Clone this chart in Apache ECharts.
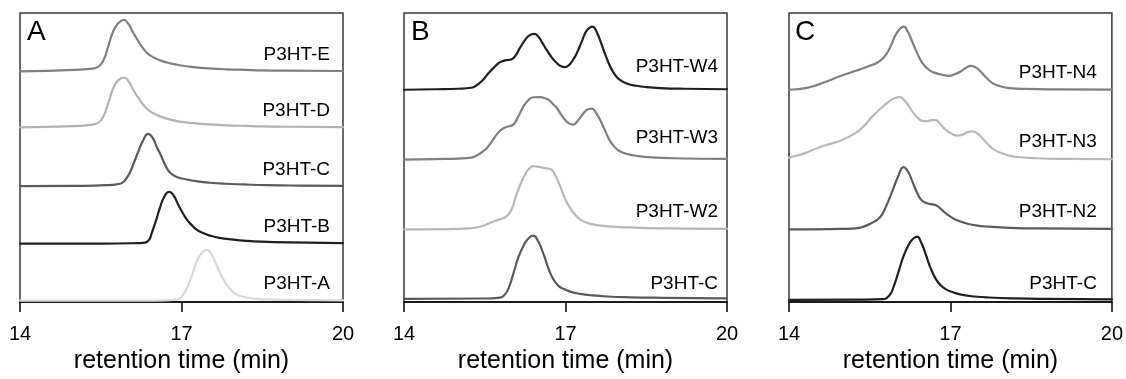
<!DOCTYPE html>
<html>
<head>
<meta charset="utf-8">
<script src="https://cdn.jsdelivr.net/npm/echarts@6/dist/echarts.min.js"></script>
<style>
html,body{margin:0;padding:0;background:#fff;}
#chart{width:1126px;height:379px;}
</style>
</head>
<body>
<div id="chart"></div>
<script>
// ---------- DATA ----------
const panelLetters = ['A', 'B', 'C'];
const xTicks = [14, 17, 20];
const xTitle = 'retention time (min)';

// Panel A
const namesA = ['P3HT-E', 'P3HT-D', 'P3HT-C', 'P3HT-B', 'P3HT-A'];
const offsetsA = [231.5, 175.3, 116.3, 58.7, 1.5];
const tA_E = [14, 14.5, 15, 15.3, 15.45, 15.55, 15.65, 15.73, 15.82, 15.93, 16.02, 16.1, 16.2, 16.29, 16.38, 16.48, 16.6, 16.79, 17, 17.22, 17.5, 17.84, 18.2, 18.46, 19, 20];
const hA_E = [0, 0.5, 1.5, 2.5, 4.5, 11, 27, 40, 48, 51.7, 47, 39, 30, 22.7, 17.5, 14, 11, 8, 5.8, 4.3, 3, 2, 1.4, 1, 0.6, 0.3];
const tA_D = [14, 14.5, 15, 15.3, 15.45, 15.55, 15.65, 15.73, 15.82, 15.93, 16.02, 16.1, 16.2, 16.29, 16.38, 16.48, 16.6, 16.79, 17, 17.22, 17.5, 17.84, 18.2, 18.46, 19, 20];
const hA_D = [0, 0.5, 1.3, 2.5, 4.5, 11, 26, 39, 47, 50, 46, 38, 29.5, 22.7, 17.5, 14, 11, 7.7, 5.5, 4.2, 3, 2, 1.4, 1, 0.6, 0.3];
const tA_C = [14, 15, 15.6, 15.86, 15.95, 16.04, 16.12, 16.2, 16.28, 16.38, 16.47, 16.55, 16.6, 16.7, 16.79, 16.9, 17.1, 17.3, 17.53, 17.8, 18.15, 18.6, 19.2, 20];
const hA_C = [0, 0.3, 1, 2.4, 6, 13.4, 24, 35, 45, 52.5, 48, 38, 33, 21, 13.4, 9.5, 6.7, 4.8, 3.4, 2.4, 1.7, 1, 0.6, 0.3];
const tA_B = [14, 15.5, 16.2, 16.32, 16.4, 16.45, 16.52, 16.6, 16.68, 16.77, 16.85, 16.94, 17.02, 17.1, 17.2, 17.28, 17.4, 17.53, 17.7, 17.96, 18.2, 18.46, 19, 20];
const hA_B = [0, 0, 0.5, 1, 4, 11, 22, 36, 47, 52, 48.5, 39, 31, 24, 18, 14, 10.5, 8, 5.8, 4, 2.8, 2, 1.2, 0.5];
const tA_A = [14, 16.5, 16.91, 17, 17.1, 17.2, 17.28, 17.38, 17.47, 17.56, 17.65, 17.74, 17.84, 17.94, 18.03, 18.15, 18.34, 18.6, 19, 20];
const hA_A = [0, 0, 1, 4, 12.7, 26, 39, 48, 51, 46, 36, 25, 16, 9.5, 6, 3.8, 2, 1.2, 0.7, 0.3];

// Panel B
const namesB = ['P3HT-W4', 'P3HT-W3', 'P3HT-W2', 'P3HT-C'];
const offsetsB = [213, 143, 73, 3.3];
const tB_W4 = [14, 14.6, 15, 15.25, 15.35, 15.47, 15.56, 15.66, 15.75, 15.81, 15.9, 16, 16.08, 16.15, 16.25, 16.33, 16.42, 16.5, 16.57, 16.65, 16.75, 16.84, 16.92, 16.99, 17.07, 17.14, 17.21, 17.3, 17.39, 17.5, 17.57, 17.64, 17.72, 17.83, 17.92, 18.01, 18.15, 18.32, 18.5, 18.76, 19.2, 20];
const hB_W4 = [0, 0.5, 1, 2, 4.5, 10, 16, 21.7, 26.5, 28.3, 29.7, 30.7, 35, 41.7, 50, 54.5, 56, 53, 47, 40, 32, 26.7, 23.5, 22.7, 25, 30, 36.7, 48, 59, 63.3, 59, 50, 38, 23.3, 15, 10, 6, 4, 2.7, 1.7, 1, 0.5];
const tB_W3 = [14, 14.6, 15, 15.25, 15.35, 15.45, 15.54, 15.63, 15.72, 15.82, 15.91, 16.03, 16.12, 16.22, 16.3, 16.4, 16.53, 16.62, 16.68, 16.76, 16.84, 16.92, 16.99, 17.07, 17.14, 17.22, 17.33, 17.42, 17.49, 17.56, 17.67, 17.75, 17.83, 17.92, 18.01, 18.15, 18.35, 18.6, 19, 20];
const hB_W3 = [0, 0.5, 1, 2, 4, 7.5, 11.7, 18, 25, 30.5, 32.7, 35, 43, 53.3, 59, 62.5, 62.7, 61.5, 60, 56, 51.7, 45, 40, 36, 35, 38.5, 46, 50.5, 51, 47.5, 36.7, 27, 18.3, 12, 8.3, 5.5, 3.5, 2.2, 1.3, 0.6];
const tB_W2 = [14, 14.8, 15.2, 15.35, 15.5, 15.6, 15.75, 15.91, 16, 16.09, 16.17, 16.25, 16.32, 16.4, 16.5, 16.59, 16.67, 16.74, 16.82, 16.9, 16.99, 17.08, 17.18, 17.27, 17.4, 17.58, 17.8, 18.01, 18.5, 19.2, 20];
const hB_W2 = [0, 0.3, 1, 1.8, 4, 6.7, 9.5, 13.3, 20, 35, 46, 55, 60.5, 63.3, 62.7, 61.7, 61, 60, 53, 43.3, 31, 21.7, 14.5, 10, 6.5, 4.3, 3, 2.3, 1.3, 0.8, 0.5];
const tB_C = [14, 15.5, 15.75, 15.84, 15.93, 16.03, 16.12, 16.22, 16.31, 16.4, 16.49, 16.59, 16.68, 16.77, 16.86, 16.96, 17.1, 17.27, 17.5, 17.77, 18.2, 18.8, 20];
const hB_C = [0, 0.3, 1, 2.5, 9, 25, 41, 53.3, 60.5, 63.3, 58, 45, 31, 20, 13.5, 10, 7, 5, 3.4, 2.3, 1.5, 1, 0.4];

// Panel C
const namesC = ['P3HT-N4', 'P3HT-N3', 'P3HT-N2', 'P3HT-C'];
const offsetsC = [213, 143, 73, 2.3];
const tC_N4 = [14, 14.15, 14.31, 14.46, 14.62, 14.78, 14.93, 15.08, 15.24, 15.4, 15.55, 15.68, 15.8, 15.9, 15.98, 16.06, 16.13, 16.21, 16.29, 16.38, 16.48, 16.6, 16.73, 16.85, 16.97, 17.08, 17.19, 17.29, 17.38, 17.47, 17.56, 17.67, 17.78, 17.93, 18.09, 18.4, 19, 20];
const hC_N4 = [0, 0.5, 1.7, 3.7, 6.7, 10, 13.3, 16, 19, 22, 25, 28.5, 35, 45, 55, 61, 63.3, 58, 48.3, 37, 26.7, 20, 16.7, 15, 14, 15.5, 18.3, 22, 24, 22.5, 18.3, 12, 6.7, 3.5, 1.7, 0.8, 0.4, 0.2];
const tC_N3 = [14, 14.15, 14.31, 14.46, 14.62, 14.78, 14.93, 15.08, 15.24, 15.4, 15.55, 15.7, 15.86, 15.96, 16.06, 16.15, 16.23, 16.32, 16.41, 16.48, 16.56, 16.65, 16.73, 16.82, 16.91, 17.02, 17.13, 17.23, 17.32, 17.41, 17.5, 17.59, 17.7, 17.81, 17.95, 18.09, 18.3, 18.6, 19.2, 20];
const hC_N3 = [2, 4, 6.7, 10, 13.3, 16, 18.3, 22, 26.7, 34, 43.3, 51, 58.3, 61.5, 62.7, 59, 53.3, 46, 41, 38.7, 38.5, 39.5, 39.5, 35, 30, 26, 24, 25, 27.5, 28.3, 26, 21.7, 15, 10, 6.5, 4, 2.3, 1.3, 0.6, 0.3];
const tC_N2 = [14, 14.8, 15.24, 15.4, 15.55, 15.65, 15.73, 15.82, 15.92, 16.02, 16.13, 16.21, 16.29, 16.37, 16.45, 16.53, 16.6, 16.68, 16.76, 16.85, 16.94, 17.05, 17.16, 17.3, 17.47, 17.7, 18.03, 18.6, 20];
const hC_N2 = [0, 0.3, 1, 3, 6.7, 10, 15, 25, 38.3, 52, 62.3, 58, 48.3, 38, 30, 27, 25.7, 25, 23.3, 19, 15, 11, 8.3, 5.8, 4, 2.7, 1.7, 0.9, 0.4];
const tC_C = [14, 15.4, 15.73, 15.86, 15.95, 16.04, 16.13, 16.23, 16.3, 16.38, 16.46, 16.54, 16.63, 16.73, 16.82, 16.91, 17.05, 17.22, 17.45, 17.71, 18.2, 18.8, 20];
const hC_C = [0, 0.2, 0.7, 4, 14, 29, 44, 55.7, 61, 63.3, 57, 45.7, 32, 20.7, 14.5, 10.7, 7.5, 5, 3.3, 2.3, 1.4, 0.9, 0.4];

// ---------- STYLE / LAYOUT ----------
const FONT = 'Liberation Sans, Arial, sans-serif';
const gridLefts = [20, 404, 789];
const gridTop = 13, gridWidth = 323, gridHeight = 290;
const colorsA = ['#7f7f7f', '#b3b3b3', '#5a5a5a', '#1f1f1f', '#d9d9d9'];
const colorsB = ['#1f1f1f', '#7f7f7f', '#b8b8b8', '#5a5a5a'];
const colorsC = ['#7f7f7f', '#b8b8b8', '#5a5a5a', '#1f1f1f'];
const labelDxs = [-13, -9, -15];
const labelDyA = [-16.5, -16, -16.5, -16.5, -16.5];
const labelDyB = [-22, -21, -17, -15];
const labelDyC = [-17, -17, -17, -16];

const panelsDef = [
  { names: namesA, offsets: offsetsA, ts: [tA_E, tA_D, tA_C, tA_B, tA_A], hs: [hA_E, hA_D, hA_C, hA_B, hA_A], colors: colorsA, dys: labelDyA },
  { names: namesB, offsets: offsetsB, ts: [tB_W4, tB_W3, tB_W2, tB_C], hs: [hB_W4, hB_W3, hB_W2, hB_C], colors: colorsB, dys: labelDyB },
  { names: namesC, offsets: offsetsC, ts: [tC_N4, tC_N3, tC_N2, tC_C], hs: [hC_N4, hC_N3, hC_N2, hC_C], colors: colorsC, dys: labelDyC }
];

const grids = [], xAxes = [], yAxes = [], series = [], graphics = [];
panelsDef.forEach((p, gi) => {
  grids.push({ left: gridLefts[gi], top: gridTop, width: gridWidth, height: gridHeight,
    show: true, borderColor: '#3a3a3a', borderWidth: 1.5, backgroundColor: 'transparent' });
  xAxes.push({
    type: 'value', gridIndex: gi, min: xTicks[0], max: xTicks[xTicks.length - 1], interval: xTicks[1] - xTicks[0],
    axisLine: { show: true, lineStyle: { color: '#000', width: 1.5 } },
    axisTick: { show: true, length: 10, lineStyle: { color: '#000', width: 1.5 } },
    axisLabel: { fontSize: 20, color: '#000', margin: 22, fontFamily: FONT },
    splitLine: { show: false },
    name: xTitle, nameLocation: 'middle', nameGap: 44,
    nameTextStyle: { fontSize: 25, color: '#000', fontFamily: FONT }
  });
  yAxes.push({ type: 'value', gridIndex: gi, min: 0, max: gridHeight, show: false });
  p.names.forEach((nm, i) => {
    const t = p.ts[i], h = p.hs[i];
    series.push({
      type: 'line', name: nm, xAxisIndex: gi, yAxisIndex: gi,
      data: t.map((x, k) => [x, h[k] + p.offsets[i]]),
      showSymbol: false, smooth: 0.5,
      lineStyle: { color: p.colors[i], width: 2.2, cap: 'round', join: 'round' },
      itemStyle: { color: p.colors[i] },
      clip: true,
      endLabel: { show: true, formatter: '{a}', align: 'right', verticalAlign: 'middle', distance: 0,
        offset: [labelDxs[gi], p.dys[i]], fontSize: 19, color: '#000', fontFamily: FONT },
      z: 3
    });
  });
});

const letterPos = [[27, 32], [411, 32], [795, 32]];
panelLetters.forEach((L, i) => {
  graphics.push({ type: 'text', left: letterPos[i][0], top: letterPos[i][1] - 14,
    style: { text: L, fontSize: 28, fill: '#000', fontFamily: FONT } });
});

const chart = echarts.init(document.getElementById('chart'), null, { renderer: 'canvas' });
chart.setOption({
  animation: false,
  backgroundColor: '#fff',
  grid: grids, xAxis: xAxes, yAxis: yAxes, series: series, graphic: graphics
});
</script>
</body>
</html>
